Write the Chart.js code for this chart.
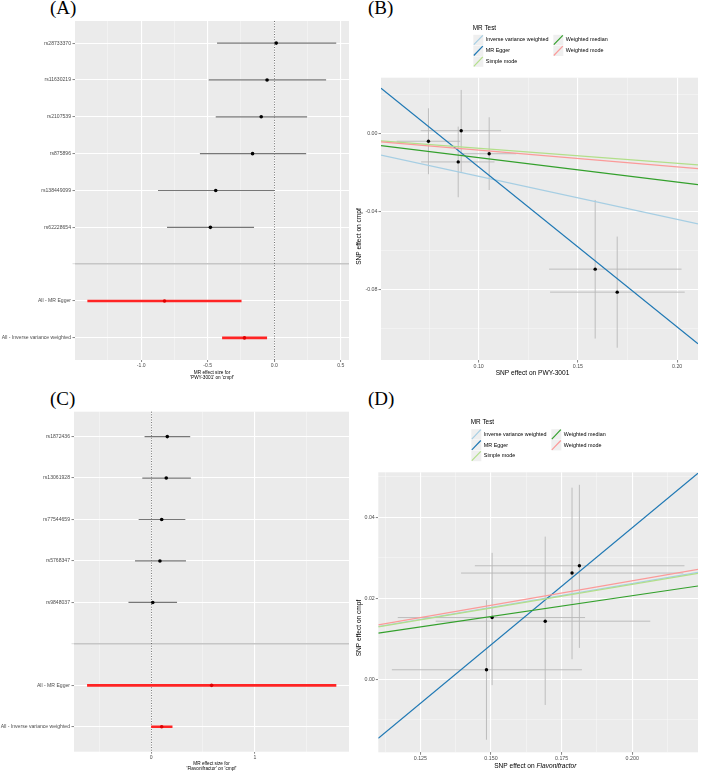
<!DOCTYPE html>
<html>
<head>
<meta charset="utf-8">
<script src="https://cdn.jsdelivr.net/npm/chart.js@4"></script>
<style>
  body { margin: 0; background: #fff; width: 702px; height: 773px; position: relative; overflow: hidden; }
  canvas { position: absolute; }
  .tag { position: absolute; font-family: "Liberation Serif", "Times New Roman", serif; font-size: 19px; line-height: 19px; color: #000; }
</style>
</head>
<body>
<div class="tag" style="left:50px;top:-2.5px">(A)</div>
<div class="tag" style="left:368px;top:-2.5px">(B)</div>
<div class="tag" style="left:50px;top:389px">(C)</div>
<div class="tag" style="left:368px;top:389px">(D)</div>

<canvas id="cA" width="353" height="386" style="left:0;top:0"></canvas>
<canvas id="cB" width="348" height="386" style="left:354px;top:0"></canvas>
<canvas id="cC" width="353" height="387" style="left:0;top:386px"></canvas>
<canvas id="cD" width="348" height="387" style="left:354px;top:386px"></canvas>

<script>
// ---------- data ----------
// (A) forest plot, PWY-3001 on cmpf
const snpA = ['rs28733370', 'rs11630219', 'rs2107539', 'rs875896', 'rs138449099', 'rs62228654'];
const effA = [0.015, -0.054, -0.098, -0.163, -0.44, -0.48];
const loA  = [-0.43, -0.493, -0.44, -0.559, -0.874, -0.806];
const hiA  = [0.466, 0.39, 0.247, 0.24, 0.0, -0.152];
const sumNames = ['All - MR Egger', 'All - Inverse variance weighted'];
const sumEffA = [-0.825, -0.224];
const sumLoA  = [-1.405, -0.392];
const sumHiA  = [-0.246, -0.054];
const xTicksA = [-1.25, -1, -0.75, -0.5, -0.25, 0, 0.25, 0.5];
const xMajorA = [-1, -0.5, 0, 0.5];

// (C) forest plot, Flavonifractor on cmpf
const snpC = ['rs1872436', 'rs13061928', 'rs77544659', 'rs5768347', 'rs9848037'];
const effC = [0.156, 0.146, 0.102, 0.085, 0.016];
const loC  = [-0.063, -0.085, -0.12, -0.155, -0.218];
const hiC  = [0.377, 0.383, 0.33, 0.336, 0.25];
const sumEffC = [0.583, 0.102];
const sumLoC  = [-0.617, 0.0];
const sumHiC  = [1.785, 0.206];
const xTicksC = [-0.5, 0, 0.5, 1, 1.5];
const xMajorC = [0, 1];

// MR methods (scatter plots)
const methods = ['Inverse variance weighted', 'MR Egger', 'Simple mode', 'Weighted median', 'Weighted mode'];
const methodColors = ['#a6cee3', '#1f78b4', '#b2df8a', '#33a02c', '#fb9a99'];

// (B) scatter, SNP effect on PWY-3001 vs cmpf
const bx   = [0.0747, 0.0912, 0.1053, 0.0897, 0.1587, 0.1698];
const by   = [-0.0041, 0.0013, -0.0105, -0.0147, -0.0697, -0.0815];
const bxLo = [0.0587, 0.0708, 0.0917, 0.071, 0.1355, 0.136];
const bxHi = [0.0907, 0.1113, 0.1189, 0.108, 0.2022, 0.2038];
const byLo = [-0.021, -0.0198, -0.0291, -0.0328, -0.1053, -0.110];
const byHi = [0.0128, 0.0222, 0.0082, 0.0034, -0.0342, -0.053];
const slopeB = [-0.221, -0.821, -0.077, -0.125, -0.086];
const interB = [0, 0.0648, 0, 0, 0];
const xTicksB = [0.075, 0.1, 0.125, 0.15, 0.175, 0.2];
const xMajorB = [0.1, 0.15, 0.2];
const yTicksB = [-0.1, -0.08, -0.06, -0.04, -0.02, 0, 0.02];
const yMajorB = [-0.08, -0.04, 0];

// (D) scatter, SNP effect on Flavonifractor vs cmpf
const dx   = [0.1787, 0.1813, 0.1504, 0.1692, 0.1484];
const dy   = [0.0262, 0.028, 0.0152, 0.0143, 0.0023];
const dxLo = [0.1394, 0.1443, 0.117, 0.1304, 0.1149];
const dxHi = [0.2181, 0.2185, 0.1833, 0.2064, 0.1822];
const dyLo = [0.0049, 0.0077, -0.0015, -0.0064, -0.015];
const dyHi = [0.0473, 0.048, 0.0312, 0.0352, 0.0195];
const slopeD = [0.118, 0.579, 0.117, 0.103, 0.1215];
const interD = [0, -0.0784, 0, 0, 0];
const xTicksD = [0.1125, 0.125, 0.1375, 0.15, 0.1625, 0.175, 0.1875, 0.2, 0.2125];
const xMajorD = [0.125, 0.15, 0.175, 0.2];
const yTicksD = [-0.01, 0, 0.01, 0.02, 0.03, 0.04, 0.05];
const yMajorD = [0, 0.02, 0.04];

// ---------- helpers ----------
const FONT = '"Liberation Sans", Arial, sans-serif';
Chart.defaults.font.family = FONT;

const isIn = (arr, v) => arr.some(m => Math.abs(m - v) < 1e-9);

const panelBg = {
  id: 'panelBg',
  beforeDraw(chart) {
    const { ctx, chartArea: a } = chart;
    ctx.save();
    ctx.fillStyle = '#ebebeb';
    ctx.fillRect(a.left, a.top, a.right - a.left, a.bottom - a.top);
    ctx.restore();
  }
};

// dotted reference line at zero for the forest plots
const zeroLine = {
  id: 'zeroLine',
  beforeDatasetsDraw(chart) {
    const { ctx, chartArea: a } = chart;
    const x = Math.round(chart.scales.x.getPixelForValue(0)) + 0.5;
    ctx.save();
    ctx.strokeStyle = '#333';
    ctx.lineWidth = 0.7;
    ctx.setLineDash([1, 1.6]);
    ctx.beginPath();
    ctx.moveTo(x, a.top);
    ctx.lineTo(x, a.bottom);
    ctx.stroke();
    ctx.restore();
  }
};

function legendPlugin(x0, y0) {
  return {
    id: 'mrLegend',
    afterDraw(chart) {
      const ctx = chart.ctx;
      ctx.save();
      ctx.textBaseline = 'middle';
      ctx.textAlign = 'left';
      ctx.fillStyle = '#000';
      ctx.font = '6.4px ' + FONT;
      ctx.fillText('MR Test', x0, y0);
      methods.forEach((m, i) => {
        const col = i < 3 ? 0 : 1, row = i < 3 ? i : i - 3;
        const kx = x0 + 0.6 + col * 80, ky = y0 + 11.7 + row * 10.8;
        ctx.fillStyle = '#efefef';
        ctx.fillRect(kx, ky - 5.2, 10, 10.4);
        ctx.strokeStyle = methodColors[i];
        ctx.lineWidth = 1.2;
        ctx.beginPath();
        ctx.moveTo(kx + 0.5, ky + 4.7);
        ctx.lineTo(kx + 9.5, ky - 4.7);
        ctx.stroke();
        ctx.fillStyle = '#000';
        ctx.font = '5.4px ' + FONT;
        ctx.fillText(m, kx + 12.5, ky);
      });
      ctx.restore();
    }
  };
}

// axis titles with mixed styles, drawn centered at (x, y)
function titlePlugin(items) {
  return {
    id: 'axisTitles',
    afterDraw(chart) {
      const ctx = chart.ctx;
      items.forEach(it => {
        ctx.save();
        ctx.translate(it.x, it.y);
        if (it.rot) ctx.rotate(it.rot);
        ctx.textBaseline = 'middle';
        ctx.textAlign = 'left';
        ctx.fillStyle = '#000';
        const fonts = it.parts.map(p => (p.italic ? 'italic ' : '') + it.size + 'px ' + FONT);
        const widths = it.parts.map((p, k) => { ctx.font = fonts[k]; return ctx.measureText(p.t).width; });
        let x = -widths.reduce((a, b) => a + b, 0) / 2;
        it.parts.forEach((p, k) => { ctx.font = fonts[k]; ctx.fillText(p.t, x, 0); x += widths[k]; });
        ctx.restore();
      });
    }
  };
}

function numAxis(min, max, ticks, majors, dec, fontSize, dir, size, pad) {
  return {
    type: 'linear', min, max,
    afterBuildTicks: s => { s.ticks = ticks.map(v => ({ value: v })); },
    afterFit: s => { if (dir === 'x') s.height = size; else s.width = size; },
    border: { display: false },
    grid: {
      color: c => (c.tick && isIn(majors, c.tick.value)) ? '#ffffff' : 'rgba(255,255,255,0.6)',
      lineWidth: c => (c.tick && isIn(majors, c.tick.value)) ? 1.1 : 0.6,
      tickColor: c => (c.tick && isIn(majors, c.tick.value)) ? '#333333' : 'rgba(0,0,0,0)',
      tickLength: 2.5,
      tickWidth: 0.6
    },
    ticks: {
      autoSkip: false, maxRotation: 0, padding: pad, color: '#4d4d4d',
      font: { size: fontSize },
      callback: v => isIn(majors, v) ? v.toFixed(dec) : ''
    }
  };
}

function rowAxis(labels, sepRow, width, fontSize) {
  const rows = labels.map((_, i) => i);
  const isSep = c => c.tick && c.tick.value === sepRow;
  return {
    type: 'linear', reverse: true, min: -0.6, max: labels.length - 1 + 0.6,
    afterBuildTicks: s => { s.ticks = rows.map(v => ({ value: v })); },
    afterFit: s => { s.width = width; },
    border: { display: false },
    grid: {
      color: c => isSep(c) ? '#c6c6c6' : '#ffffff',
      lineWidth: c => isSep(c) ? 1.4 : 1.1,
      tickColor: c => isSep(c) ? '#c6c6c6' : '#333333',
      tickLength: 2.5,
      tickWidth: 0.6
    },
    ticks: { autoSkip: false, padding: 1.5, color: '#4d4d4d', font: { size: fontSize }, callback: v => labels[v] }
  };
}

function hBar(lo, hi, y, color, w) {
  return { data: [{ x: lo, y }, { x: hi, y }], showLine: true, borderColor: color, borderWidth: w, pointRadius: 0, order: 20 };
}

function forestDatasets(eff, lo, hi, sEff, sLo, sHi) {
  const sep = eff.length;
  const ds = [];
  eff.forEach((_, i) => ds.push(hBar(lo[i], hi[i], i, '#777777', 1.2)));
  sEff.forEach((_, j) => ds.push(hBar(sLo[j], sHi[j], sep + 1 + j, '#ff2424', 2.6)));
  ds.push({ data: eff.map((v, i) => ({ x: v, y: i })), pointRadius: 1.8, pointBackgroundColor: '#000', pointBorderColor: '#000', pointBorderWidth: 0, order: 0 });
  ds.push({ data: sEff.map((v, j) => ({ x: v, y: sep + 1 + j })), pointRadius: 1.8, pointBackgroundColor: '#e00000', pointBorderColor: '#e00000', pointBorderWidth: 0, order: 0 });
  return ds;
}

function scatterDatasets(px, py, xlo, xhi, ylo, yhi, slopes, inters, xmin, xmax) {
  const ds = [];
  const bar = (pts) => ({ data: pts, showLine: true, borderColor: '#b8b8b8', borderWidth: 0.9, pointRadius: 0, order: 100 });
  px.forEach((_, i) => {
    ds.push(bar([{ x: xlo[i], y: py[i] }, { x: xhi[i], y: py[i] }]));
    ds.push(bar([{ x: px[i], y: ylo[i] }, { x: px[i], y: yhi[i] }]));
  });
  ds.push({ data: px.map((x, i) => ({ x, y: py[i] })), pointRadius: 1.7, pointBackgroundColor: '#000', pointBorderColor: '#000', pointBorderWidth: 0, order: 50 });
  methods.forEach((m, i) => ds.push({
    label: m,
    data: [{ x: xmin, y: inters[i] + slopes[i] * xmin }, { x: xmax, y: inters[i] + slopes[i] * xmax }],
    showLine: true, borderColor: methodColors[i], borderWidth: 1.2, pointRadius: 0, order: 10 - i
  }));
  return ds;
}

const baseOpts = {
  responsive: false,
  animation: false,
  devicePixelRatio: 1,
  events: [],
  plugins: { legend: { display: false }, tooltip: { enabled: false } }
};

// ---------- (A) ----------
const labelsA = [...snpA, '', ...sumNames];
const xA = numAxis(-1.498, 0.562, xTicksA, xMajorA, 1, 5.1, 'x', 26, 0.5);
xA.grid.tickLength = 2;
xA.title = { display: true, text: ['MR effect size for', "'PWY-3001' on 'cmpf'"], color: '#000',
             font: { size: 4.7, lineHeight: 1.1 }, padding: { top: 0, bottom: 5.4 } };
new Chart(document.getElementById('cA'), {
  type: 'scatter',
  data: { datasets: forestDatasets(effA, loA, hiA, sumEffA, sumLoA, sumHiA) },
  options: { ...baseOpts,
    layout: { padding: { top: 21, right: 0, left: 0, bottom: 0 } },
    scales: { x: xA, y: rowAxis(labelsA, snpA.length, 75, 5.1) }
  },
  plugins: [panelBg, zeroLine]
});

// ---------- (C) ----------
const labelsC = [...snpC, '', ...sumNames];
const xC = numAxis(-0.743, 1.907, xTicksC, xMajorC, 0, 5.1, 'x', 21.3, 0.5);
xC.grid.tickLength = 2;
xC.title = { display: true, text: ['MR effect size for', "'Flavonifractor' on 'cmpf'"], color: '#000',
             font: { size: 4.7, lineHeight: 1.1 }, padding: { top: 0, bottom: 1.4 } };
new Chart(document.getElementById('cC'), {
  type: 'scatter',
  data: { datasets: forestDatasets(effC, loC, hiC, sumEffC, sumLoC, sumHiC) },
  options: { ...baseOpts,
    layout: { padding: { top: 25.7, right: 0, left: 0, bottom: 0 } },
    scales: { x: xC, y: rowAxis(labelsC, snpC.length, 74, 5.1) }
  },
  plugins: [panelBg, zeroLine]
});

// ---------- (B) ----------
const xMinB = 0.0508, xMaxB = 0.2105;
new Chart(document.getElementById('cB'), {
  type: 'scatter',
  data: { datasets: scatterDatasets(bx, by, bxLo, bxHi, byLo, byHi, slopeB, interB, xMinB, xMaxB) },
  options: { ...baseOpts,
    layout: { padding: { top: 77.7, right: 2, left: 0, bottom: 0 } },
    scales: {
      x: numAxis(xMinB, xMaxB, xTicksB, xMajorB, 2, 5.3, 'x', 26, 0.5),
      y: numAxis(-0.1163, 0.0285, yTicksB, yMajorB, 2, 5.3, 'y', 27, 1)
    }
  },
  plugins: [panelBg, legendPlugin(118.7, 28.3), titlePlugin([
    { x: 178.5, y: 373.3, size: 6.6, parts: [{ t: 'SNP effect on PWY-3001' }] },
    { x: 5, y: 236.5, rot: -Math.PI / 2, size: 6.6, parts: [{ t: 'SNP effect on cmpf' }] }
  ])]
});

// ---------- (D) ----------
const xMinD = 0.1101, xMaxD = 0.2233;
new Chart(document.getElementById('cD'), {
  type: 'scatter',
  data: { datasets: scatterDatasets(dx, dy, dxLo, dxHi, dyLo, dyHi, slopeD, interD, xMinD, xMaxD) },
  options: { ...baseOpts,
    layout: { padding: { top: 86.3, right: 2, left: 0, bottom: 0 } },
    scales: {
      x: numAxis(xMinD, xMaxD, xTicksD, xMajorD, 3, 5.3, 'x', 20.7, 0.5),
      y: numAxis(-0.0181, 0.0511, yTicksD, yMajorD, 2, 5.3, 'y', 24.3, 1)
    }
  },
  plugins: [panelBg, legendPlugin(116.7, 36.7), titlePlugin([
    { x: 181.3, y: 380, size: 6.6, parts: [{ t: 'SNP effect on ' }, { t: 'Flavonifractor', italic: true }] },
    { x: 5, y: 242, rot: -Math.PI / 2, size: 6.6, parts: [{ t: 'SNP effect on cmpf' }] }
  ])]
});
</script>
</body>
</html>
